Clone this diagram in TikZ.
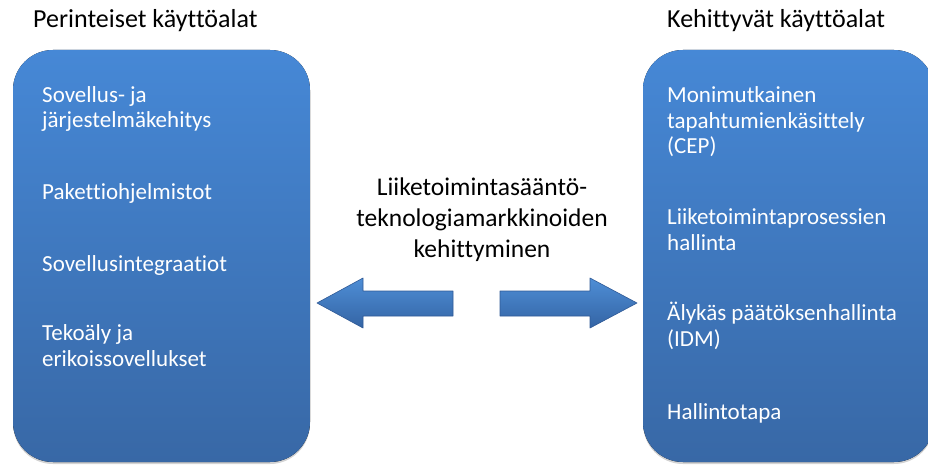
\documentclass[tikz,border=0pt]{standalone}
\usepackage{fontspec}
\setmainfont[Ligatures=NoCommon]{Carlito}
\usetikzlibrary{shadows}
\definecolor{boxtop}{RGB}{70,136,214}
\definecolor{boxbot}{RGB}{56,104,166}
\definecolor{arrtop}{RGB}{78,142,214}
\definecolor{arrbot}{RGB}{52,100,164}
\definecolor{arredge}{RGB}{48,90,150}
\tikzset{
  usebox/.style={rounded corners=40pt,top color=boxtop,bottom color=boxbot,
    drop shadow={opacity=0.35,shadow xshift=0pt,shadow yshift=-2pt}},
  itemtext/.style={anchor=base west,inner sep=0pt,align=left,text=white,
    font=\fontsize{23}{25.5}\selectfont},
  headtext/.style={anchor=base west,inner sep=0pt,font=\fontsize{26}{30}\selectfont},
  blockarrow/.style={top color=arrtop,bottom color=arrbot,draw=arredge,line width=0.6pt,line join=round}
}
\begin{document}
\begin{tikzpicture}[x=1pt,y=1pt]
\useasboundingbox (0,0) rectangle (928,464);
%\draw[step=50pt,gray,very thin] (0,0) grid (928,464);
\node[headtext] (perint) at (33,436) {Perinteiset käyttöalat};
\node[headtext] (kehitt) at (667,436) {Kehittyvät käyttöalat};
\fill[usebox] (13,2) rectangle (310,414);
\fill[usebox] (643,2) rectangle (934,414);
% perinteiset (base = viimeinen rivi)
\node[itemtext] (sovell) at (42,336) {Sovellus- ja\\järjestelmäkehitys};
\node[itemtext] (paketti) at (42,265) {Pakettiohjelmistot};
\node[itemtext] (integr) at (42,193) {Sovellusintegraatiot};
\node[itemtext] (tekoaly) at (42,98) {Tekoäly ja\\erikoissovellukset};
% kehittyvat
\node[itemtext] (cep) at (667,310) {Monimutkainen\\tapahtumienkäsittely\\(CEP)};
\node[itemtext] (bpm) at (667,214) {Liiketoimintaprosessien\\hallinta};
\node[itemtext] (idm) at (667,118) {Älykäs päätöksenhallinta\\(IDM)};
\node[itemtext] (gov) at (667,45) {Hallintotapa};
% keskella
\node[anchor=base,inner sep=0pt,align=center,font=\fontsize{25.5}{31}\selectfont] (markk) at (482,207)
  {Liiketoimintasääntö-\\teknologiamarkkinoiden\\kehittyminen};
\draw[blockarrow] (317,161) -- (363,186) -- (363,173) -- (453,173) -- (453,148) -- (363,148) -- (363,136) -- cycle;
\draw[blockarrow] (637,161) -- (590,186) -- (590,173) -- (500,173) -- (500,148) -- (590,148) -- (590,136) -- cycle;
\end{tikzpicture}
\end{document}
